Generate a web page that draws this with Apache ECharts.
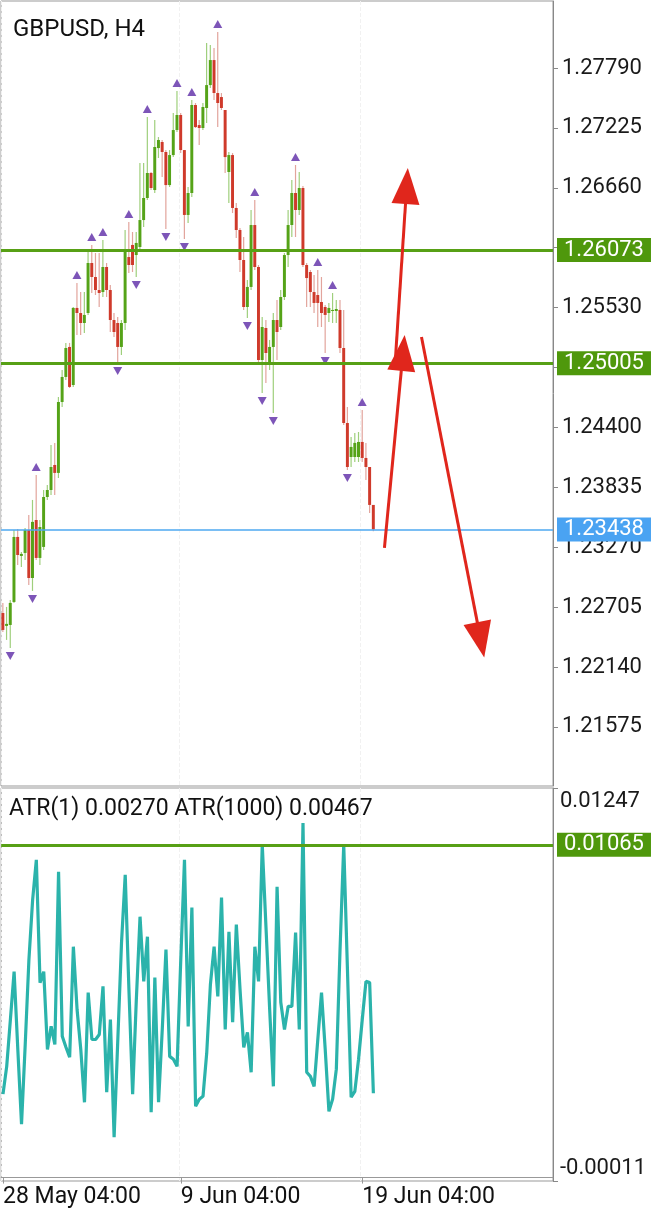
<!DOCTYPE html>
<html>
<head>
<meta charset="utf-8">
<script src="https://cdn.jsdelivr.net/npm/echarts@6/dist/echarts.min.js"></script>
<style>
html,body{margin:0;padding:0;background:#fff;}
#c{width:670px;height:1209px;}
</style>
</head>
<body>
<div id="c"></div>
<script>
// ---- data ----
const slotCount = 149; // bar slots on the time axis (incl. empty future)
const xTickIndex = [0, 48, 97];
const xTickText = ['28 May 04:00', '9 Jun 04:00', '19 Jun 04:00'];
const priceTicks = [1.21575, 1.22140, 1.22705, 1.23270, 1.23835, 1.24400, 1.24965, 1.25530, 1.26095, 1.26660, 1.27225, 1.27790];
const priceTickLabels = [1.21575, 1.22140, 1.22705, 1.23270, 1.23835, 1.24400, 1.25530, 1.26660, 1.27225, 1.27790];
const atrTicks = [-0.00011, 0.01247];
const levels = [1.26073, 1.25005];
const lastPrice = 1.23438;
const atrLevel = 0.01065;

// [open, close, low, high]
const candles = [
[1.22650,1.22490,1.22471,1.22745],[1.22528,1.22547,1.22396,1.22707],[1.22537,1.22745,1.22320,1.22773],
[1.22754,1.23367,1.22745,1.23433],[1.23367,1.23197,1.23103,1.23443],[1.23188,1.23207,1.23084,1.23226],
[1.23216,1.23433,1.23150,1.23452],[1.23433,1.22980,1.22914,1.23575],[1.22980,1.23509,1.22858,1.23716],
[1.23527,1.23169,1.23150,1.23952],[1.23169,1.23461,1.23103,1.23527],[1.23273,1.23744,1.23244,1.23810],
[1.23744,1.23810,1.23716,1.23857],[1.23810,1.24027,1.23763,1.24235],[1.24046,1.23971,1.23763,1.24254],
[1.23971,1.24640,1.23923,1.24687],[1.24640,1.24876,1.24593,1.24942],[1.24876,1.25149,1.24848,1.25197],
[1.25159,1.24782,1.24772,1.25197],[1.24800,1.25527,1.24782,1.25536],[1.25527,1.25479,1.25272,1.25762],
[1.25479,1.25385,1.25272,1.25677],[1.25385,1.25461,1.25291,1.25677],[1.25479,1.25951,1.25461,1.26055],
[1.25951,1.25819,1.25668,1.26121],[1.25819,1.25696,1.25649,1.26045],[1.25696,1.25668,1.25536,1.26045],
[1.25677,1.25913,1.25630,1.26168],[1.25913,1.25696,1.25630,1.25951],[1.25696,1.25413,1.25300,1.25743],
[1.25413,1.25300,1.25253,1.25479],[1.25385,1.25159,1.25008,1.25442],[1.25159,1.25385,1.25083,1.25413],
[1.25385,1.26073,1.25319,1.26262],[1.26007,1.25932,1.25857,1.26338],[1.26121,1.25932,1.25866,1.26243],
[1.26026,1.26140,1.25819,1.26243],[1.26102,1.26356,1.26073,1.26894],[1.26356,1.26564,1.26290,1.26894],
[1.26564,1.26800,1.26545,1.27328],[1.26800,1.26658,1.26639,1.26809],[1.26639,1.27045,1.26611,1.27299],
[1.27035,1.27111,1.26941,1.27139],[1.27092,1.26998,1.26762,1.27111],[1.26998,1.26686,1.26272,1.27016],
[1.26686,1.26969,1.26668,1.27016],[1.26969,1.27205,1.26950,1.27365],[1.27205,1.27347,1.27186,1.27573],
[1.27347,1.27016,1.26988,1.27365],[1.27016,1.26404,1.26177,1.27016],[1.26404,1.26611,1.26328,1.26668],
[1.26611,1.27441,1.26573,1.27488],[1.27441,1.27233,1.27224,1.27460],[1.27252,1.27224,1.27064,1.27299],
[1.27224,1.27422,1.27205,1.27460],[1.27413,1.27629,1.27271,1.28026],[1.27629,1.27865,1.27601,1.28007],
[1.27865,1.27554,1.27488,1.27978],[1.27554,1.27460,1.27233,1.28129],[1.27516,1.27413,1.27394,1.27554],
[1.27394,1.26950,1.26800,1.27394],[1.26809,1.26969,1.26517,1.26998],[1.26969,1.26470,1.26422,1.26988],
[1.26470,1.26262,1.26187,1.26517],[1.26262,1.25979,1.25866,1.26281],[1.25979,1.25536,1.25508,1.26196],
[1.25536,1.25725,1.25432,1.25791],[1.25725,1.26309,1.25696,1.26451],[1.26309,1.25913,1.25885,1.26545],
[1.25913,1.25036,1.25017,1.25932],[1.25036,1.25347,1.24725,1.25442],[1.25338,1.25102,1.24819,1.25413],
[1.25017,1.25159,1.24942,1.25225],[1.25159,1.25413,1.24536,1.25479],[1.25413,1.25300,1.25036,1.25602],
[1.25347,1.25630,1.25319,1.25696],[1.25630,1.26026,1.25602,1.26045],[1.26026,1.26309,1.25913,1.26451],
[1.26309,1.26611,1.26196,1.26734],[1.26611,1.26451,1.26196,1.26875],[1.26451,1.26658,1.26404,1.26809],
[1.26658,1.25932,1.25913,1.26677],[1.25932,1.25809,1.25536,1.25951],[1.25866,1.25677,1.25536,1.25885],
[1.25677,1.25574,1.25479,1.25838],[1.25649,1.25574,1.25347,1.25885],[1.25583,1.25479,1.25347,1.25819],
[1.25536,1.25461,1.25102,1.25555],[1.25479,1.25527,1.25395,1.25574],[1.25498,1.25508,1.25385,1.25668],
[1.25498,1.25517,1.25385,1.25602],[1.25508,1.25149,1.25102,1.25602],[1.25149,1.24442,1.24423,1.25508],
[1.24442,1.24027,1.23999,1.24593],[1.24121,1.24216,1.24027,1.24310],[1.24121,1.24254,1.24074,1.24348],
[1.24121,1.24263,1.24074,1.24357],[1.24263,1.24112,1.24074,1.24565],[1.24112,1.24027,1.23905,1.24254],
[1.24027,1.23669,1.23593,1.24027],[1.23669,1.23438,1.23420,1.23669]
];

const fractalUp = [9, 20, 24, 27, 34, 39, 47, 51, 58, 68, 79, 85, 89, 97];
const fractalDown = [2, 8, 31, 36, 44, 49, 66, 70, 73, 87, 93];

const atr = [
0.00267,0.00356,0.00506,0.00659,0.00410,0.00171,0.00426,0.00698,0.00889,0.01017,
0.00624,0.00659,0.00410,0.00484,0.00426,0.00979,0.00452,0.00417,0.00385,0.00739,
0.00538,0.00410,0.00241,0.00592,0.00442,0.00442,0.00458,0.00612,0.00273,0.00506,
0.00129,0.00442,0.00752,0.00969,0.00602,0.00267,0.00570,0.00835,0.00628,0.00771,
0.00209,0.00640,0.00241,0.00474,0.00730,0.00388,0.00379,0.00356,0.00698,0.01017,
0.00484,0.00864,0.00228,0.00251,0.00260,0.00398,0.00618,0.00739,0.00580,0.00896,
0.00474,0.00787,0.00497,0.00810,0.00602,0.00417,0.00465,0.00337,0.00739,0.00628,
0.01065,0.00803,0.00538,0.00292,0.00931,0.00561,0.00474,0.00548,0.00548,0.00784,
0.00474,0.01135,0.00337,0.00324,0.00292,0.00442,0.00592,0.00410,0.00212,0.00251,
0.00347,0.00730,0.01065,0.00666,0.00257,0.00276,0.00379,0.00506,0.00628,0.00624,
0.00270
];

// hand-drawn arrows: [[slot, price] start, [slot, price] head]
const arrows = [
  [[106.2, 1.25064], [109.2, 1.26677]],
  [[103.2, 1.23263], [107.6, 1.25102]],
  [[112.9, 1.25253], [129.1, 1.22396]]
];

// ---- chart ----
const FONT = 'Roboto';
const categories = Array.from({length: slotCount}, (_, i) => String(i));
const labelMap = {};
xTickIndex.forEach((k, j) => { labelMap[k] = xTickText[j]; });
const isTick = (idx) => labelMap[idx] !== undefined;

const UP = '#55a318', DOWN = '#cf3a2b', UPW = '#9fcf7c', DOWNW = '#e2a49c';
const GREEN = '#57a015', BLUE = '#4ea8f0';

function renderCandle(params, api) {
  const i = api.value(0);
  const o = api.value(1), c = api.value(2), l = api.value(3), h = api.value(4);
  const pO = api.coord([i, o]), pC = api.coord([i, c]);
  const pL = api.coord([i, l]), pH = api.coord([i, h]);
  const bw = api.size([1, 0])[0] * 0.8;
  const up = c >= o;
  const top = Math.min(pO[1], pC[1]);
  const hgt = Math.max(1, Math.abs(pO[1] - pC[1]));
  return {
    type: 'group',
    children: [
      {type: 'line', shape: {x1: pH[0], y1: pH[1], x2: pL[0], y2: pL[1]},
       style: {stroke: up ? UPW : DOWNW, lineWidth: 1.2}},
      {type: 'rect', shape: {x: pO[0] - bw / 2, y: top, width: bw, height: hgt},
       style: {fill: up ? UP : DOWN}}
    ]
  };
}

const chart = echarts.init(document.getElementById('c'), null, {renderer: 'canvas'});

const levelLabel = (bg) => ({
  show: true, position: 'end', distance: 4,
  formatter: (p) => Number(p.value).toFixed(5),
  backgroundColor: bg, color: '#fff', fontSize: 22, fontFamily: FONT,
  padding: [2, 7, 0, 7]
});

const option = {
  animation: false,
  backgroundColor: '#fff',
  title: [
    {text: 'GBPUSD, H4', left: 8, top: 13,
     textStyle: {fontSize: 24, fontWeight: 'normal', color: '#111', fontFamily: FONT}},
    {text: 'ATR(1) 0.00270 ATR(1000) 0.00467', left: 4, top: 793,
     textStyle: {fontSize: 23, fontWeight: 'normal', color: '#111', fontFamily: FONT}}
  ],
  grid: [
    {left: 1, right: 117, top: 1, height: 785, show: true, borderColor: '#999', borderWidth: 1, backgroundColor: 'transparent'},
    {left: 1, right: 117, top: 788, height: 394, show: true, borderColor: '#999', borderWidth: 1, backgroundColor: 'transparent'}
  ],
  xAxis: [
    {type: 'category', gridIndex: 0, data: categories, boundaryGap: true,
     axisLine: {show: false}, axisTick: {show: false}, axisLabel: {show: false},
     splitLine: {show: true, interval: (idx) => isTick(idx), lineStyle: {color: '#f1f1f1', type: 'dashed'}}},
    {type: 'category', gridIndex: 1, data: categories, boundaryGap: true,
     axisLine: {show: true, lineStyle: {color: '#999'}},
     axisTick: {show: true, interval: (idx) => isTick(idx), alignWithLabel: true, length: 6, lineStyle: {color: '#999'}},
     axisLabel: {show: true, interval: (idx) => isTick(idx), formatter: (v, idx) => labelMap[idx] || '',
       align: 'left', fontSize: 23, color: '#111', fontFamily: FONT, margin: 5},
     splitLine: {show: true, interval: (idx) => isTick(idx), lineStyle: {color: '#f1f1f1', type: 'dashed'}}}
  ],
  yAxis: [
    {type: 'value', gridIndex: 0, position: 'right', min: 1.21018, max: 1.28422,
     axisLine: {show: true, lineStyle: {color: '#888'}},
     axisTick: {show: true, length: 5, lineStyle: {color: '#888'}, customValues: priceTicks},
     axisLabel: {customValues: priceTickLabels, formatter: (v) => v.toFixed(5), fontSize: 22,
       color: '#1a1a1a', fontFamily: FONT, margin: 9},
     splitLine: {show: false}},
    {type: 'value', gridIndex: 1, position: 'right', min: atrTicks[0], max: atrTicks[1],
     axisLine: {show: true, lineStyle: {color: '#888'}},
     axisTick: {show: true, length: 5, lineStyle: {color: '#888'}, customValues: atrTicks},
     axisLabel: {customValues: atrTicks,
       formatter: (v) => v > 0.005 ? '\n' + v.toFixed(5) : v.toFixed(5) + '\n',
       lineHeight: 26, fontSize: 22, color: '#1a1a1a', fontFamily: FONT, margin: 7},
     splitLine: {show: false}}
  ],
  series: [
    {type: 'custom', name: 'GBPUSD', xAxisIndex: 0, yAxisIndex: 0,
     renderItem: renderCandle, clip: true,
     encode: {x: 0, y: [1, 2, 3, 4]},
     data: candles.map((c, i) => [i, c[0], c[1], c[2], c[3]]),
     markLine: {
       silent: true, symbol: ['none', 'none'], precision: 5,
       data: [
         {yAxis: levels[0], lineStyle: {color: GREEN, width: 3, type: 'solid'}, label: levelLabel('#4f980c')},
         {yAxis: levels[1], lineStyle: {color: GREEN, width: 3, type: 'solid'}, label: levelLabel('#4f980c')},
         {yAxis: lastPrice, lineStyle: {color: BLUE, width: 1.5, type: 'solid', opacity: 1}, label: levelLabel('#4aa3f2')}
       ]
     }},
    {type: 'scatter', name: 'fractalUp', xAxisIndex: 0, yAxisIndex: 0,
     symbol: 'triangle', symbolSize: [9, 8], symbolOffset: [0, -8],
     itemStyle: {color: '#5c2aa6'},
     data: fractalUp.map(i => [i, candles[i][3]])},
    {type: 'scatter', name: 'fractalDown', xAxisIndex: 0, yAxisIndex: 0,
     symbol: 'triangle', symbolRotate: 180, symbolSize: [9, 8], symbolOffset: [0, 8],
     itemStyle: {color: '#5c2aa6'},
     data: fractalDown.map(i => [i, candles[i][2]])},
    {type: 'line', name: 'arrows', xAxisIndex: 0, yAxisIndex: 0, data: [],
     markLine: {
       silent: true, symbol: ['none', 'triangle'], precision: 5,
       lineStyle: {color: '#e0261c', width: 3, type: 'solid'},
       label: {show: false},
       data: arrows.map(a => [
         {coord: a[0], symbol: 'none'},
         {coord: a[1], symbol: 'triangle', symbolSize: [28, 36]}
       ])
     }},
    {type: 'line', name: 'ATR(1)', xAxisIndex: 1, yAxisIndex: 1,
     data: atr, showSymbol: false, symbol: 'none',
     lineStyle: {color: '#2bb3ab', width: 3.2}, itemStyle: {color: '#2bb3ab'},
     markLine: {
       silent: true, symbol: ['none', 'none'], precision: 5,
       data: [{yAxis: atrLevel, lineStyle: {color: GREEN, width: 3, type: 'solid'}, label: levelLabel('#4f980c')}]
     }}
  ]
};
chart.setOption(option);
</script>
</body>
</html>
